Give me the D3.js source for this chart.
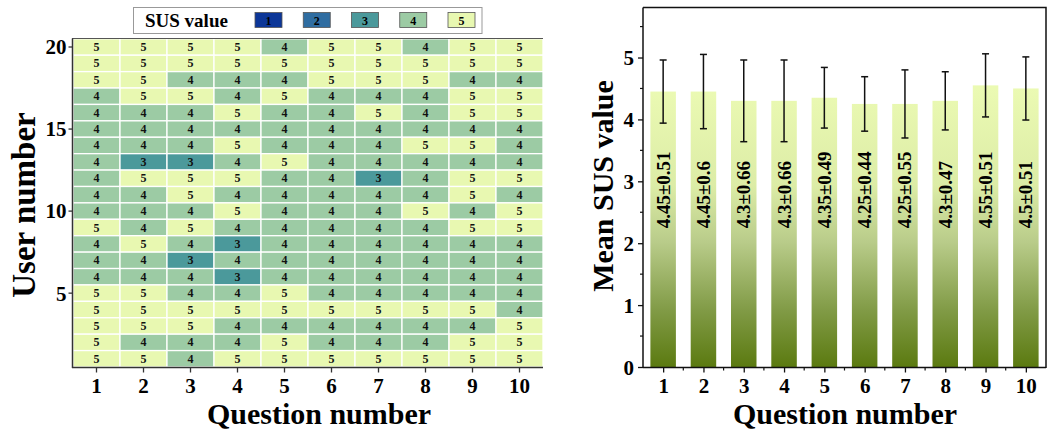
<!DOCTYPE html>
<html><head><meta charset="utf-8">
<script src="https://cdn.jsdelivr.net/npm/d3@7"></script>
<style>
body{margin:0;background:#fff;}
svg{display:block;font-family:"Liberation Serif","Times New Roman",serif;font-weight:bold;}
</style></head>
<body><svg id="c" width="1050" height="433"></svg>
<script>
// ---- data ----
const questions = [1,2,3,4,5,6,7,8,9,10];
const users = d3.range(20, 0, -1); // 20 .. 1 (top to bottom)
// rows listed from user 20 down to user 1
const susRows = [
  [5,5,5,5,4,5,5,4,5,5],
  [5,5,5,5,5,5,5,5,5,5],
  [5,5,4,4,4,5,5,5,4,4],
  [4,5,5,4,5,4,4,4,5,5],
  [4,4,4,5,4,4,5,4,5,5],
  [4,4,4,4,4,4,4,4,4,4],
  [4,4,4,5,4,4,4,5,5,4],
  [4,3,3,4,5,4,4,4,4,4],
  [4,5,5,5,4,4,3,4,5,5],
  [4,4,5,4,4,4,4,4,5,4],
  [4,4,4,5,4,4,4,5,4,5],
  [5,4,5,4,4,4,4,4,5,5],
  [4,5,4,3,4,4,4,4,4,4],
  [4,4,3,4,4,4,4,4,4,4],
  [4,4,4,3,4,4,4,4,4,4],
  [5,5,4,4,5,4,4,4,4,4],
  [5,5,5,5,5,5,5,5,5,4],
  [5,5,5,4,4,4,4,4,4,5],
  [5,4,4,4,5,4,4,4,5,5],
  [5,5,4,5,5,5,5,5,5,5]
];
const legendValues = [1,2,3,4,5];
const legendColors = ["#0c3698","#2f6da1","#4b999b","#9ccba4","#e8f8b1"];
const userTicks = [5,10,15,20];
const meanValues = [4.45,4.45,4.3,4.3,4.35,4.25,4.25,4.3,4.55,4.5];
const sdValues = [0.51,0.6,0.66,0.66,0.49,0.44,0.55,0.47,0.51,0.51];
const meanTicks = [0,1,2,3,4,5];

const svg = d3.select("#c");
const color = d3.scaleOrdinal().domain(legendValues).range(legendColors);
const TICKFS = 21, TITLEFS = 30;

// ================= LEFT: heatmap =================
const hx = d3.scaleBand().domain(questions).range([73, 543]);
const hy = d3.scaleBand().domain(users).range([38.8, 367]);
const cells = [];
susRows.forEach((row, i) => row.forEach((v, j) => cells.push({u: users[i], q: questions[j], v})));

const hg = svg.append("g");
hg.selectAll("rect.cell").data(cells).join("rect")
  .attr("class","cell")
  .attr("x", d => hx(d.q)).attr("y", d => hy(d.u))
  .attr("width", hx.bandwidth()).attr("height", hy.bandwidth())
  .attr("fill", d => color(d.v))
  .attr("stroke", "#fff").attr("stroke-width", 1.3);
hg.selectAll("text.cv").data(cells).join("text")
  .attr("class","cv")
  .attr("x", d => hx(d.q) + hx.bandwidth()/2)
  .attr("y", d => hy(d.u) + hy.bandwidth()/2 + 4)
  .attr("text-anchor","middle").attr("font-size", 12).attr("fill","#111")
  .text(d => d.v);

// top border line
hg.append("line").attr("x1",72).attr("x2",543).attr("y1",38.5).attr("y2",38.5)
  .attr("stroke","#555").attr("stroke-width",1);

// axes
const hxAxis = d3.axisBottom(hx).tickSize(5).tickSizeOuter(0);
const gxh = svg.append("g").attr("transform","translate(0,367.5)").call(hxAxis);
gxh.select(".domain").attr("stroke","#333").attr("stroke-width",1.5).attr("d","M72,0H543");
gxh.selectAll(".tick line").attr("stroke","#333").attr("stroke-width",1.3);
gxh.selectAll(".tick text").attr("font-size",TICKFS).attr("font-family","Liberation Serif").attr("font-weight","bold").attr("fill","#000").attr("dy","0.95em").attr("y",6);

const hyAxis = d3.axisLeft(hy).tickValues(userTicks).tickSize(4).tickSizeOuter(0);
const gyh = svg.append("g").attr("transform","translate(72.5,0)").call(hyAxis);
gyh.select(".domain").attr("stroke","#333").attr("stroke-width",1.5).attr("d","M0,38.5V368");
gyh.selectAll(".tick line").attr("stroke","#333").attr("stroke-width",1.3);
gyh.selectAll(".tick text").attr("font-size",TICKFS).attr("font-family","Liberation Serif").attr("font-weight","bold").attr("fill","#000").attr("x",-6).attr("dy","0.35em");

svg.append("text").attr("x",319).attr("y",424).attr("text-anchor","middle")
  .attr("font-size",TITLEFS).text("Question number");
svg.append("text").attr("transform","translate(35,205) rotate(-90)").attr("text-anchor","middle")
  .attr("font-size",33).text("User number");

// legend
const lg = svg.append("g");
lg.append("rect").attr("x",133.5).attr("y",7.5).attr("width",348.5).attr("height",26)
  .attr("fill","#fff").attr("stroke","#999").attr("stroke-width",1);
lg.append("text").attr("x",145).attr("y",26.5).attr("font-size",19).text("SUS value");
const lx = d3.scaleLinear().domain([1,5]).range([255,448]);
lg.selectAll("rect.sw").data(legendValues).join("rect").attr("class","sw")
  .attr("x", d => lx(d)).attr("y",12.5).attr("width",27).attr("height",15)
  .attr("fill", d => color(d)).attr("stroke","#555").attr("stroke-width",0.8);
lg.selectAll("text.sl").data(legendValues).join("text").attr("class","sl")
  .attr("x", d => lx(d)+13.5).attr("y",24.5).attr("text-anchor","middle")
  .attr("font-size",12).attr("fill","#000").text(d => d);

// ================= RIGHT: bar chart =================
const bx = d3.scaleLinear().domain([0.5,10.5]).range([643,1046]);
const by = d3.scaleLinear().domain([0,5.8]).range([367,8]);
const barW = 25.5;

const defs = svg.append("defs");
const grad = defs.append("linearGradient").attr("id","bg")
  .attr("gradientUnits","userSpaceOnUse").attr("x1",0).attr("x2",0)
  .attr("y1", by(4.5)).attr("y2", by(0));
grad.append("stop").attr("offset","0").attr("stop-color","#ebfab3");
grad.append("stop").attr("offset","0.35").attr("stop-color","#dceca6");
grad.append("stop").attr("offset","0.55").attr("stop-color","#b9cc8a");
grad.append("stop").attr("offset","0.8").attr("stop-color","#809a45");
grad.append("stop").attr("offset","1").attr("stop-color","#5b7a10");

const bg = svg.append("g");
bg.selectAll("rect.bar").data(questions).join("rect").attr("class","bar")
  .attr("x", (q) => bx(q) - barW/2).attr("width", barW)
  .attr("y", (q,i) => by(meanValues[i])).attr("height", (q,i) => by(0) - by(meanValues[i]))
  .attr("fill","url(#bg)");

// error bars
const eg = bg.selectAll("g.err").data(questions).join("g").attr("class","err");
eg.append("line").attr("x1", q => bx(q)).attr("x2", q => bx(q))
  .attr("y1", (q,i) => by(meanValues[i]-sdValues[i])).attr("y2", (q,i) => by(meanValues[i]+sdValues[i]))
  .attr("stroke","#111").attr("stroke-width",1.5);
eg.append("line").attr("x1", q => bx(q)-3.5).attr("x2", q => bx(q)+3.5)
  .attr("y1", (q,i) => by(meanValues[i]+sdValues[i])).attr("y2", (q,i) => by(meanValues[i]+sdValues[i]))
  .attr("stroke","#111").attr("stroke-width",1.5);
eg.append("line").attr("x1", q => bx(q)-3.5).attr("x2", q => bx(q)+3.5)
  .attr("y1", (q,i) => by(meanValues[i]-sdValues[i])).attr("y2", (q,i) => by(meanValues[i]-sdValues[i]))
  .attr("stroke","#111").attr("stroke-width",1.5);

// bar labels
bg.selectAll("text.bl").data(questions).join("text").attr("class","bl")
  .attr("transform", q => `translate(${bx(q)+6.5},${by(2.24)}) rotate(-90)`)
  .attr("font-size",19).attr("fill","#000")
  .text((q,i) => `${meanValues[i]}±${sdValues[i]}`);

// axes
const xMinor = d3.range(1.5, 10.5, 1);
const gxb = svg.append("g").attr("transform","translate(0,367.5)");
gxb.call(d3.axisBottom(bx).tickValues(questions).tickFormat(d3.format("d")).tickSize(5).tickSizeOuter(0));
gxb.select(".domain").attr("stroke","#111").attr("stroke-width",1.5).attr("d","M643,0H1046");
gxb.selectAll(".tick line").attr("stroke","#111").attr("stroke-width",1.3);
gxb.selectAll(".tick text").attr("font-size",TICKFS).attr("font-family","Liberation Serif").attr("font-weight","bold").attr("fill","#000").attr("dy","0.95em").attr("y",6);
gxb.selectAll("line.minor").data(xMinor).join("line").attr("class","minor")
  .attr("x1", d => bx(d)).attr("x2", d => bx(d)).attr("y1",0).attr("y2",3)
  .attr("stroke","#111").attr("stroke-width",1.2);

const yMinor = d3.range(0.5, 5.8, 1);
const gyb = svg.append("g").attr("transform","translate(643,0)");
gyb.call(d3.axisLeft(by).tickValues(meanTicks).tickFormat(d3.format("d")).tickSize(5).tickSizeOuter(0));
gyb.select(".domain").attr("stroke","#111").attr("stroke-width",1.5).attr("d","M0,7.5V368");
gyb.selectAll(".tick line").attr("stroke","#111").attr("stroke-width",1.3);
gyb.selectAll(".tick text").attr("font-size",TICKFS).attr("font-family","Liberation Serif").attr("font-weight","bold").attr("fill","#000").attr("x",-9).attr("dy","0.35em");
gyb.selectAll("line.minor").data(yMinor).join("line").attr("class","minor")
  .attr("y1", d => by(d)).attr("y2", d => by(d)).attr("x1",0).attr("x2",-3)
  .attr("stroke","#111").attr("stroke-width",1.2);

// frame top/right
svg.append("path").attr("d","M643,7.5H1046V368").attr("fill","none").attr("stroke","#111").attr("stroke-width",1.5);

svg.append("text").attr("x",845).attr("y",424).attr("text-anchor","middle")
  .attr("font-size",TITLEFS).text("Question number");
svg.append("text").attr("transform","translate(613,186) rotate(-90)").attr("text-anchor","middle")
  .attr("font-size",TITLEFS).text("Mean SUS value");
</script></body></html>
